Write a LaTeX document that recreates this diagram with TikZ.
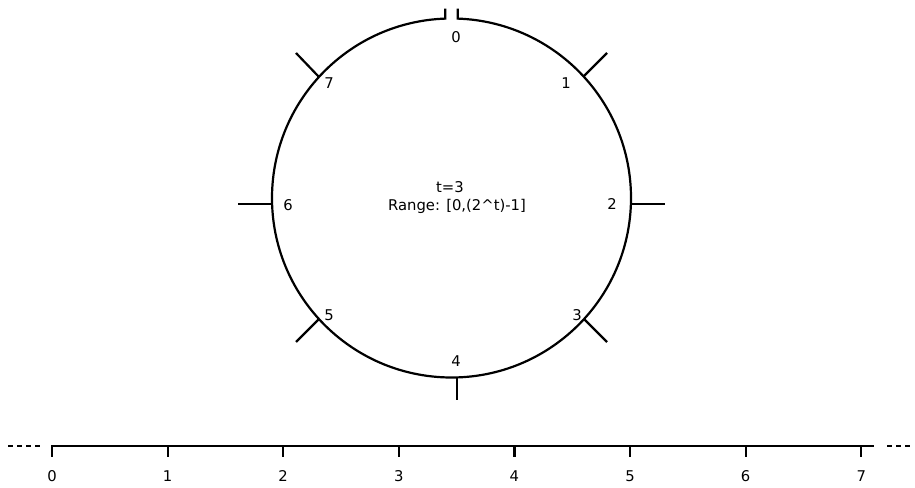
\documentclass[tikz,border=0pt]{standalone}
\usepackage{fontspec}
\setmainfont{DejaVu Sans}
\tikzset{
	ringlabel/.style={inner sep=0pt, font=\fontsize{14.8}{17}\selectfont},
	mydots/.style={dashed, dash pattern=on 5pt off 4pt},
}

\begin{document}
\begin{tikzpicture}[x=1pt, y=1pt, line width=2.2pt]
	\useasboundingbox (0,0) rectangle (915,487);
	% ring, open at zero
	\coordinate (centre) at (451.5,289);
	\draw (centre) ++(88:179.5) ++(0,10) -- ++(0,-10) arc[start angle=88, end angle=-268, radius=179.5] -- ++(0,10);
	\draw (584,411) -- (607,434);
	\draw (631,283) -- (665,283);
	\draw (584,168) -- (607,145);
	\draw (457,110) -- (457,87);
	\draw (319,168) -- (296,145);
	\draw (272,283) -- (238,283);
	\draw (319,410) -- (296,434);
	\node[ringlabel] (r0) at (456,450) {0};
	\node[ringlabel] (r1) at (566,404) {1};
	\node[ringlabel] (r2) at (612,283) {2};
	\node[ringlabel] (r3) at (577,172) {3};
	\node[ringlabel] (r4) at (456,126) {4};
	\node[ringlabel] (r5) at (329,172) {5};
	\node[ringlabel] (r6) at (288,282) {6};
	\node[ringlabel] (r7) at (329,404) {7};
	\node[ringlabel] (tval) at (450,300) {t=3};
	\node[ringlabel] (range) at (457,281) {Range: [0,(2\textasciicircum t)-1]};
	% number line
	\draw (52,30) -- (52,41) -- (874,41);
	\foreach \i in {1,...,7} \draw (52+115.6*\i,41) -- ++(0,-11);
	\foreach \i in {0,...,7} \node[ringlabel] (num\i) at (52+115.6*\i,11) {\i};
	\draw[mydots] (8,41) -- (42,41);
	\draw[mydots] (887,41) -- (912,41);
\end{tikzpicture}
\end{document}
